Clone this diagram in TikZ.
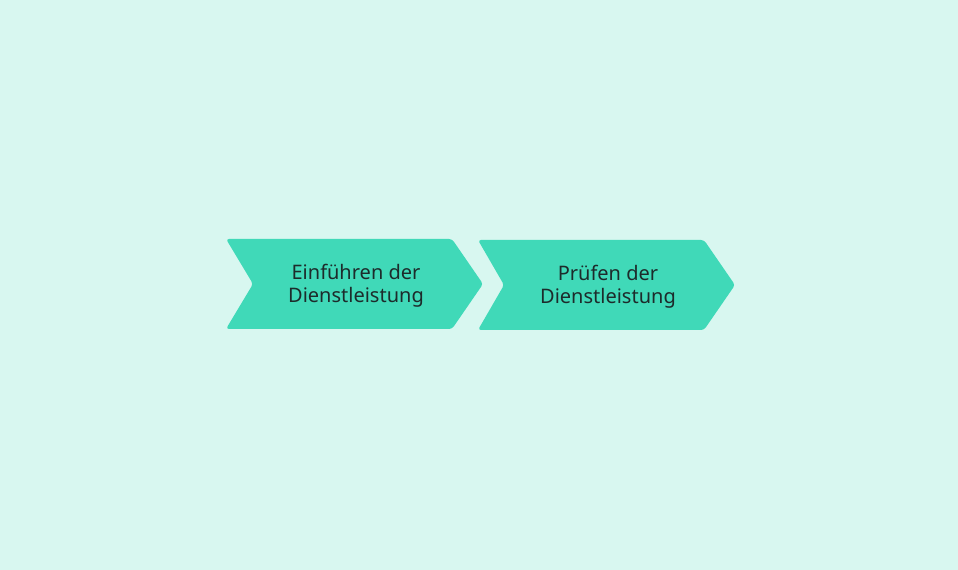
\documentclass[tikz,border=0pt]{standalone}
\usepackage{fontspec}
\setmainfont{Noto Sans}
\colorlet{background}{white}
\definecolor{bgMint}{HTML}{D8F7F0}
\definecolor{arrowTeal}{HTML}{40D9B8}
\definecolor{textDark}{HTML}{1D2B2B}
\tikzset{
  chevron/.style={fill=arrowTeal,rounded corners=3bp},
  steplabel/.style={text=textDark,align=center,
    font=\fontsize{20bp}{23.5bp}\selectfont}
}

\begin{document}
\begin{tikzpicture}[x=1bp,y=1bp]
    \fill[bgMint] (0,0) rectangle (958,570);
    \useasboundingbox (0,0) rectangle (958,570);

    % first step
    \fill[chevron] (226,331) -- (452,331) -- (483,286) -- (452,241)
      -- (226,241) -- (253,286) -- cycle;
    \node[steplabel] (einfuehren) at (356,284) {Einführen der\\Dienstleistung};

    % second step
    \fill[chevron] (478,330) -- (704,330) -- (735,285) -- (704,240)
      -- (478,240) -- (504,285) -- cycle;
    \node[steplabel] (pruefen) at (608,283) {Prüfen der\\Dienstleistung};
\end{tikzpicture}
\end{document}
